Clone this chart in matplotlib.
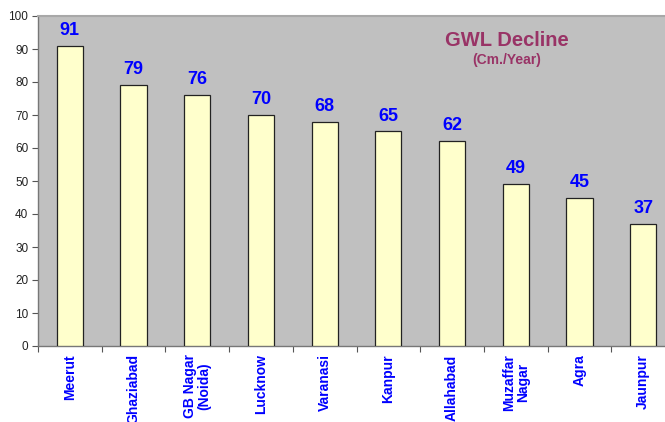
import matplotlib
matplotlib.use("Agg")
import matplotlib.pyplot as plt
import numpy as np

plt.rcParams['font.family'] = ['Liberation Sans', 'DejaVu Sans']

districts = ["Meerut", "Ghaziabad", "GB Nagar\n(Noida)", "Lucknow", "Varanasi",
             "Kanpur", "Allahabad", "Muzaffar\nNagar", "Agra", "Jaunpur"]
decline = [91, 79, 76, 70, 68, 65, 62, 49, 45, 37]
yticks = list(range(0, 101, 10))

fig = plt.figure(figsize=(6.65, 4.22), dpi=100)
ax = fig.add_axes([38/665, 76/422, 637/665, 330/422])
ax.set_facecolor('#C0C0C0')

x = np.arange(len(districts))
bars = ax.bar(x, decline, width=0.41, color='#FFFFCC', edgecolor='#222222', linewidth=0.9, zorder=3)

ax.set_xlim(-0.5, len(districts) - 0.5)
ax.set_ylim(0, 100)
ax.set_yticks(yticks)
ax.tick_params(axis='y', labelsize=8.5, colors='#555555', length=4, width=0.8, labelcolor='#222222', pad=3)

ax.set_xticks(x)
ax.set_xticklabels(districts, rotation=90, color='#0000FF', fontsize=10, fontweight='bold',
                   ha='center', va='top', multialignment='center', linespacing=1.0)
ax.tick_params(axis='x', length=0, pad=6)
ax.set_xticks(np.arange(-0.5, len(districts), 1.0), minor=True)
ax.tick_params(axis='x', which='minor', length=4, width=0.8, colors='#555555')

for sp in ['left', 'bottom']:
    ax.spines[sp].set_color('#777777')
    ax.spines[sp].set_linewidth(1.0)
ax.spines['top'].set_color('#A8A8A8')
ax.spines['top'].set_linewidth(1.5)
ax.spines['right'].set_visible(False)

for xi, v in zip(x, decline):
    ax.annotate(str(v), (xi, v), xytext=(0, 5), textcoords='offset points',
                ha='center', va='bottom', color='#0000FF', fontsize=13, fontweight='bold')

fig.text(507/665, 1 - 40/422, "GWL Decline", color='#993366', fontsize=14.5, fontweight='bold',
         ha='center', va='center')
fig.text(507/665, 1 - 60/422, "(Cm./Year)", color='#993366', fontsize=10, fontweight='bold',
         ha='center', va='center')

fig.savefig("out.png", dpi=100)
